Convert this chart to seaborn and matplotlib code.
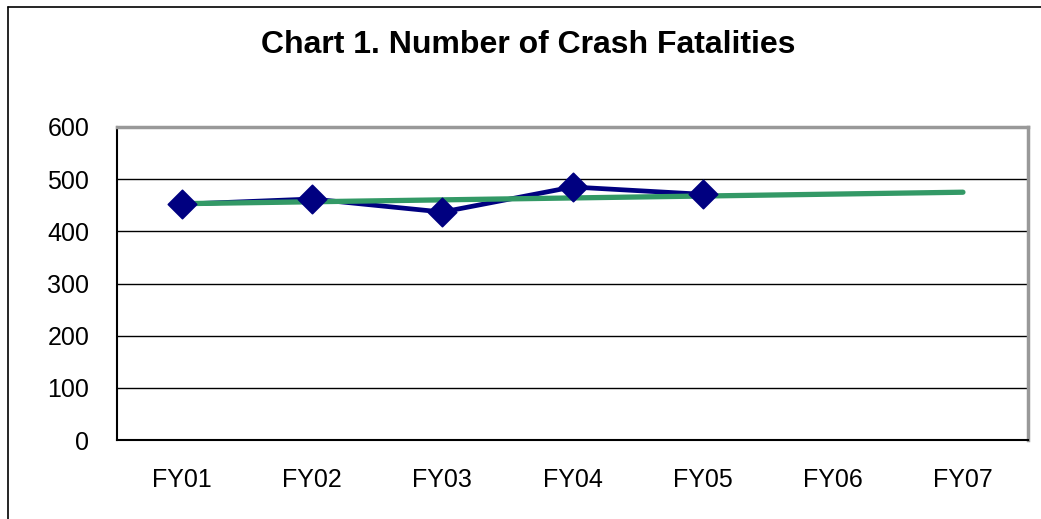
import matplotlib
matplotlib.use("Agg")
import matplotlib.pyplot as plt
from matplotlib.lines import Line2D
import seaborn as sns
import pandas as pd

# -------------------- DATA --------------------
years = ["FY01", "FY02", "FY03", "FY04", "FY05", "FY06", "FY07"]
fatalities = [452, 462, 437, 485, 471]
trend_years = ["FY01", "FY07"]
trend_values = [453, 475]

yticks = [0, 100, 200, 300, 400, 500, 600]

# -------------------- PLOT --------------------
sns.set_style("white")
plt.rcParams['font.family'] = ['Liberation Sans', 'DejaVu Sans']
plt.rcParams['text.color'] = 'black'
plt.rcParams['xtick.color'] = 'black'
plt.rcParams['ytick.color'] = 'black'

fig = plt.figure(figsize=(10.41, 5.19), dpi=100)
ax = fig.add_axes([117 / 1041, 1 - 440 / 519, (1028 - 117) / 1041, (440 - 127) / 519])

pos = {y: i for i, y in enumerate(years)}
df = pd.DataFrame({"x": [pos[y] for y in years[:len(fatalities)]], "val": fatalities})
trend = pd.DataFrame({"x": [pos[y] for y in trend_years], "val": trend_values})

# actual values, trend on top of the line, diamonds on top of both
sns.lineplot(data=df, x="x", y="val", color="#000080", linewidth=3.4, ax=ax, zorder=3)
sns.lineplot(data=trend, x="x", y="val", color="#339966", linewidth=3.8, ax=ax, zorder=4,
             solid_capstyle="round")
sns.scatterplot(data=df, x="x", y="val", marker="D", s=210, color="#000080",
                edgecolor="#000080", ax=ax, zorder=5)

ax.set_xlim(-0.5, len(years) - 0.5)
ax.set_ylim(0, 600)
ax.set_yticks(yticks)
ax.set_yticklabels([str(v) for v in yticks], fontsize=18)
ax.set_xticks(range(len(years)))
ax.set_xticklabels(years, fontsize=18)
ax.set_xticks([i - 0.5 for i in range(len(years) + 1)], minor=True)
ax.tick_params(axis="x", which="major", length=0, pad=20)
ax.tick_params(axis="x", which="minor", length=7, direction="out", color="black", width=1)
ax.tick_params(axis="y", length=10, direction="out", color="black", width=1, pad=10)
ax.set_xlabel("")
ax.set_ylabel("")

ax.yaxis.grid(True, color="black", linewidth=1)
ax.set_axisbelow(True)
for side in ["top", "right"]:
    ax.spines[side].set_color("#999999")
    ax.spines[side].set_linewidth(2.5)
for side in ["left", "bottom"]:
    ax.spines[side].set_color("black")
    ax.spines[side].set_linewidth(1.5)

fig.text(0.507, 1 - 45 / 519, "Chart 1. Number of Crash Fatalities", ha="center", va="center",
         fontsize=23, fontweight="bold")

# chart frame (left and top edges)
fig.add_artist(Line2D([8 / 1041, 8 / 1041], [0, 1 - 7 / 519], color="black", linewidth=1.2))
fig.add_artist(Line2D([8 / 1041, 1], [1 - 7 / 519, 1 - 7 / 519], color="black", linewidth=1.2))

fig.savefig("out.png", dpi=100)
